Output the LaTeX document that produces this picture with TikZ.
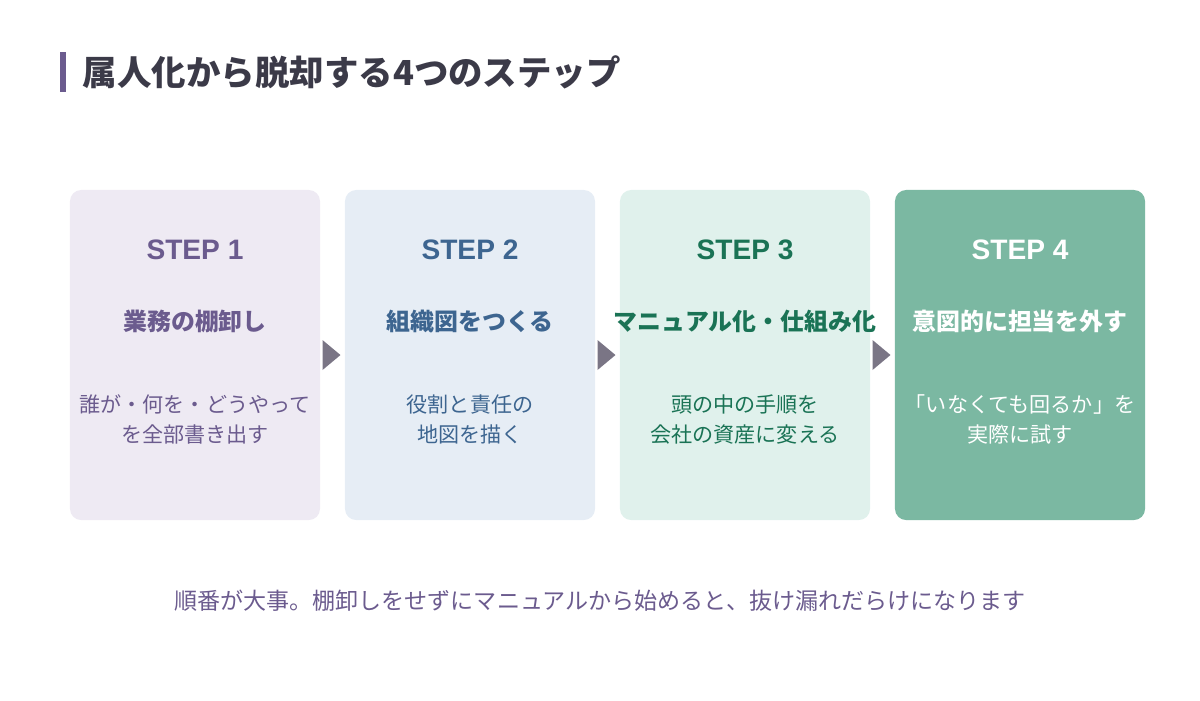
\documentclass[tikz,border=0pt]{standalone}
\usepackage{fontspec}
\setmainfont{Noto Sans CJK JP}
\newfontfamily\latinsans{Liberation Sans}
\usetikzlibrary{positioning,calc}
\definecolor{titlecol}{HTML}{3B3A48}
\definecolor{barcol}{HTML}{6B5B8E}
\definecolor{purp}{HTML}{6B5B8E}
\definecolor{purpbg}{HTML}{EEEAF3}
\definecolor{blu}{HTML}{3D6590}
\definecolor{blubg}{HTML}{E6EDF5}
\definecolor{grn}{HTML}{1A7355}
\definecolor{grnbg}{HTML}{E0F1EC}
\definecolor{teal}{HTML}{7BB8A2}
\definecolor{arrcol}{HTML}{7A7585}
\tikzset{
  stepbox/.style={rounded corners=8pt,minimum width=6.25cm,minimum height=8.25cm,inner sep=0pt},
  steplbl/.style={font=\latinsans\fontsize{20}{24}\selectfont\bfseries},
  stephead/.style={font=\fontsize{17}{20}\selectfont\bfseries},
  stepdesc/.style={font=\fontsize{15}{21.5}\selectfont,align=center},
  nextarr/.style={fill=arrcol}
}
\begin{document}
\begin{tikzpicture}[x=0.025cm,y=-0.025cm]
  \useasboundingbox (0,0) rectangle (1200,700);
  \fill[barcol] (60,52) rectangle (66,92);
  \node[anchor=west,text=titlecol,font=\fontsize{24.5}{28}\selectfont\bfseries] (title) at (78,72)
       {属人化から脱却する4つのステップ};
  % steps
  \node[stepbox,fill=purpbg] (s1) at (195,355) {};
  \node[stepbox,fill=blubg] (s2) at (470,355) {};
  \node[stepbox,fill=grnbg] (s3) at (745,355) {};
  \node[stepbox,fill=teal] (s4) at (1020,355) {};
  \foreach \n/\c/\h/\d in {1/purp/業務の棚卸し/誰が・何を・どうやって\\を全部書き出す,
                           2/blu/組織図をつくる/役割と責任の\\地図を描く,
                           3/grn/マニュアル化・仕組み化/頭の中の手順を\\会社の資産に変える,
                           4/white/意図的に担当を外す/「いなくても回るか」を\\実際に試す}{
    \node[steplbl,text=\c] (l\n) at ($(s\n.north)+(0,60)$) {STEP \n};
    \node[stephead,text=\c] (h\n) at ($(s\n.north)+(0,132)$) {\h};
    \node[stepdesc,text=\c] (d\n) at ($(s\n.north)+(0,230)$) {\d};
  }
  % arrows
  \foreach \a in {322.5,597.5,872.5}
    \fill[nextarr] (\a,340) -- (\a+18,355) -- (\a,370) -- cycle;
  \node[text=purp,font=\fontsize{16.4}{19}\selectfont] (note) at (600,601)
       {順番が大事。棚卸しをせずにマニュアルから始めると、抜け漏れだらけになります};
\end{tikzpicture}
\end{document}
